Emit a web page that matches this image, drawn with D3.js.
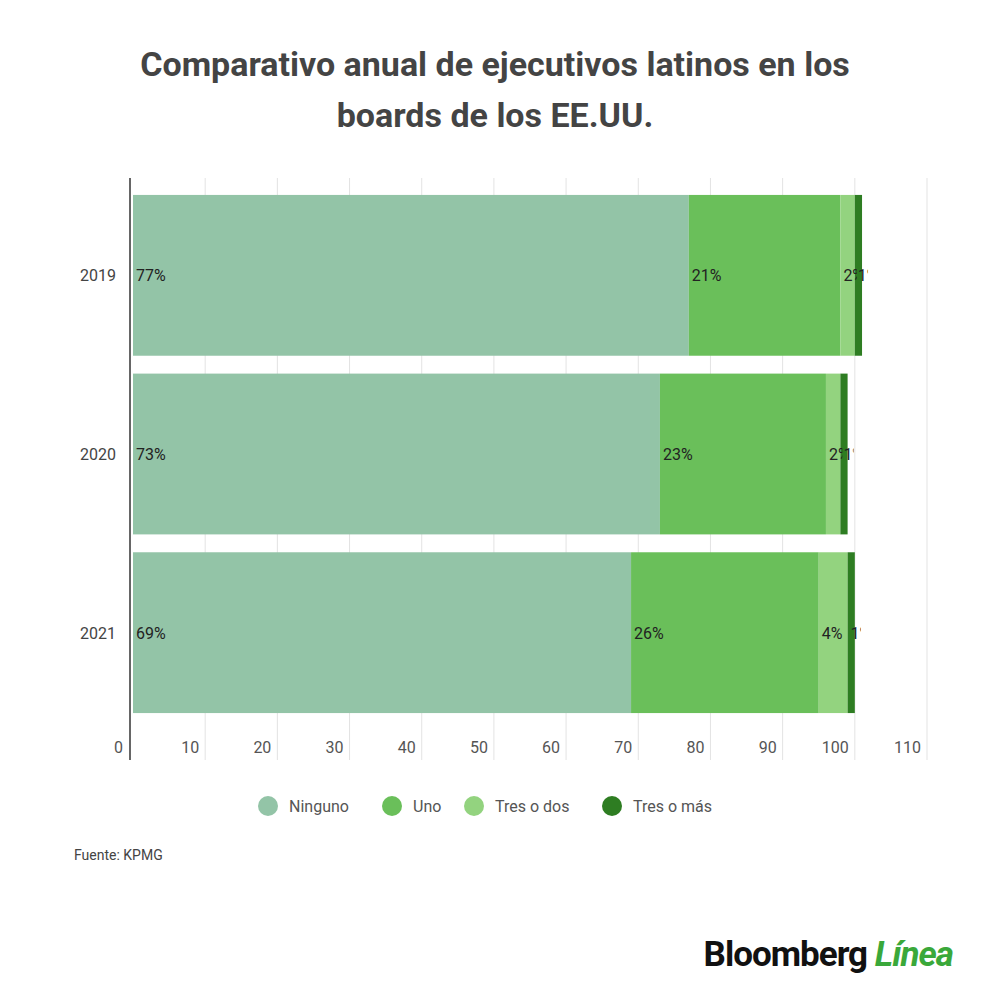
<!DOCTYPE html>
<html><head><meta charset="utf-8">
<script src="https://cdn.jsdelivr.net/npm/d3@7"></script>
<style>body{margin:0;background:#fff;font-family:Roboto,sans-serif}</style>
</head><body>
<svg id="c" width="1000" height="997"></svg>
<script>
const years = ['2019', '2020', '2021'];
const series = ['Ninguno', 'Uno', 'Tres o dos', 'Tres o más'];
const values = {
  'Ninguno': [77, 73, 69],
  'Uno': [21, 23, 26],
  'Tres o dos': [2, 2, 4],
  'Tres o más': [1, 1, 1]
};
const colors = ['#93c4a7', '#6abf5a', '#93d37f', '#2e7d22'];
const ticks = [0, 10, 20, 30, 40, 50, 60, 70, 80, 90, 100, 110];

const svg = d3.select('#c');
svg.append('text').attr('x', 495).attr('y', 76).attr('text-anchor', 'middle')
  .attr('font-size', 34).attr('font-weight', 700).attr('fill', '#444')
  .text('Comparativo anual de ejecutivos latinos en los');
svg.append('text').attr('x', 495).attr('y', 127).attr('text-anchor', 'middle')
  .attr('font-size', 34).attr('font-weight', 700).attr('fill', '#444')
  .text('boards de los EE.UU.');

const x = d3.scaleLinear().domain([0, 110]).range([133, 927]);
const y = d3.scaleBand().domain(years).range([186, 722]).paddingInner(0.1).paddingOuter(0.05);
const yTop = 178, yBottom = 760;

svg.append('g').selectAll('line').data(ticks.slice(1)).enter().append('line')
  .attr('x1', d => x(d)).attr('x2', d => x(d)).attr('y1', yTop).attr('y2', yBottom)
  .attr('stroke', '#e3e3e3');

const stack = d3.stack().keys(series)(years.map((yr, i) => {
  const o = {year: yr};
  series.forEach(s => o[s] = values[s][i]);
  return o;
}));

const defs = svg.append('defs');
const bars = svg.append('g'), labels = svg.append('g');
stack.forEach((layer, si) => {
  layer.forEach((d, i) => {
    const id = 'clip' + si + '-' + i;
    const w = x(d[1]) - x(d[0]);
    defs.append('clipPath').attr('id', id).append('rect')
      .attr('x', x(d[0])).attr('y', y(years[i]))
      .attr('width', w + (si === 3 ? 6 : 2)).attr('height', y.bandwidth());
    bars.append('rect').attr('x', x(d[0])).attr('y', y(years[i]))
      .attr('width', w).attr('height', y.bandwidth())
      .attr('fill', colors[si]);
    labels.append('text').attr('clip-path', 'url(#' + id + ')')
      .attr('x', x(d[0]) + 3).attr('y', y(years[i]) + y.bandwidth() / 2 + 6)
      .attr('font-size', 16).attr('fill', '#222')
      .text(values[series[si]][i] + '%');
  });
});

svg.append('line').attr('x1', 130).attr('x2', 130).attr('y1', yTop).attr('y2', yBottom)
  .attr('stroke', '#333').attr('stroke-width', 1.5);

svg.append('g').selectAll('text').data(years).enter().append('text')
  .attr('x', 116).attr('y', d => y(d) + y.bandwidth() / 2 + 6)
  .attr('text-anchor', 'end').attr('font-size', 16).attr('fill', '#444').text(d => d);

svg.append('g').selectAll('text').data(ticks).enter().append('text')
  .attr('x', d => d === 0 ? 123 : x(d) - 6).attr('y', 753)
  .attr('text-anchor', 'end').attr('font-size', 16).attr('fill', '#555').text(d => d);

const legX = [268, 392, 474, 612];
series.forEach((s, i) => {
  svg.append('circle').attr('cx', legX[i]).attr('cy', 806).attr('r', 10).attr('fill', colors[i]);
  svg.append('text').attr('x', legX[i] + 21).attr('y', 812).attr('font-size', 16)
    .attr('fill', '#555').text(s);
});

svg.append('text').attr('x', 74).attr('y', 860).attr('font-size', 14).attr('fill', '#444')
  .text('Fuente: KPMG');

const logo = svg.append('text').attr('x', 953).attr('y', 966).attr('text-anchor', 'end')
  .attr('font-size', 35).attr('font-weight', 700).attr('letter-spacing', -1);
logo.append('tspan').attr('fill', '#111').text('Bloomberg ');
logo.append('tspan').attr('fill', '#3aa83a').attr('font-style', 'italic').text('Línea');
</script>
</body></html>
